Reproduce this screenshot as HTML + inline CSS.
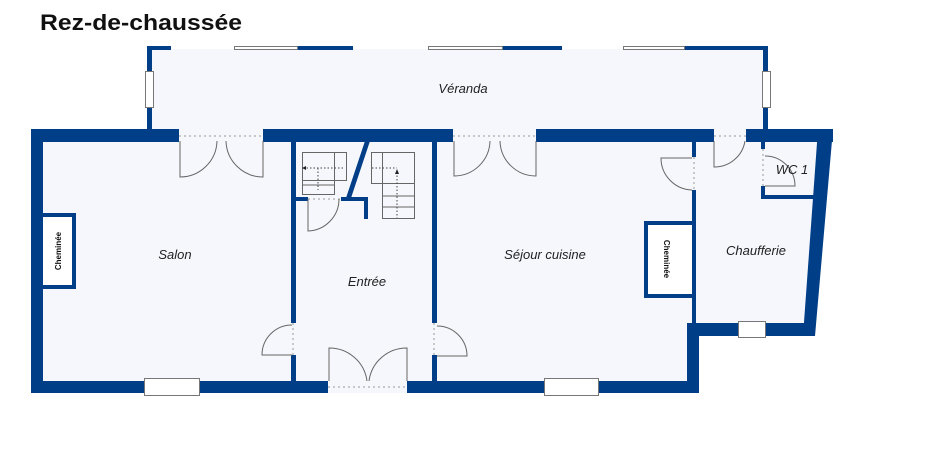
<!DOCTYPE html>
<html><head><meta charset="utf-8"><style>
html,body{margin:0;padding:0;background:#fff;width:925px;height:454px;overflow:hidden}
svg{display:block}
text{font-family:"Liberation Sans",Arial,sans-serif}
</style></head><body>
<svg width="925" height="454" viewBox="0 0 925 454" xmlns="http://www.w3.org/2000/svg">
<text x="40" y="30" font-size="22" font-weight="bold" fill="#111" textLength="202" lengthAdjust="spacingAndGlyphs">Rez-de-chaussée</text>
<!-- floors -->
<rect x="150" y="49" width="615" height="82" fill="#f5f7fc"/>
<polygon points="31,129 833,129 815,336 699,336 699,393 31,393" fill="#f5f7fc"/>
<g fill="#003f87">
<!-- veranda -->
<rect x="147" y="46" width="5" height="84"/>
<rect x="147" y="46" width="24" height="4"/>
<rect x="298" y="46" width="55" height="4"/>
<rect x="503" y="46" width="59" height="4"/>
<rect x="685" y="46" width="83" height="4"/>
<rect x="763" y="46" width="5" height="84"/>
<!-- outer walls -->
<rect x="31" y="129" width="148" height="13"/>
<rect x="263" y="129" width="190" height="13"/>
<rect x="536" y="129" width="178" height="13"/>
<rect x="746" y="129" width="87" height="13"/>
<rect x="31" y="129" width="12" height="264"/>
<rect x="31" y="381" width="297" height="12"/>
<rect x="407" y="381" width="292" height="12"/>
<rect x="687" y="323" width="12" height="70"/>
<rect x="687" y="323" width="128" height="13"/>
<polygon points="818,129 833,129 815,336 803,336"/>
<!-- interior walls -->
<rect x="291" y="141" width="5" height="182"/>
<rect x="291" y="355" width="5" height="27"/>
<rect x="432" y="141" width="5" height="182"/>
<rect x="432" y="355" width="5" height="27"/>
<rect x="692" y="137" width="4" height="20"/>
<rect x="692" y="190" width="4" height="135"/>
<rect x="761" y="141" width="4" height="8"/>
<rect x="761" y="186" width="4" height="13"/>
<rect x="761" y="195" width="54" height="4"/>
<polygon points="365,141 370,141 351,198 346,198"/>
<rect x="296" y="197" width="12" height="4"/>
<rect x="341" y="197" width="27" height="4"/>
<rect x="364" y="197" width="4" height="22"/>
<!-- cheminées -->
<rect x="43" y="213" width="33" height="76"/>
<rect x="644" y="221" width="48" height="77"/>
</g>
<rect x="43" y="217" width="29" height="68" fill="#fff"/>
<rect x="648" y="225" width="44" height="69" fill="#fff"/>
<text transform="translate(61,251) rotate(-90)" font-size="8" font-weight="bold" text-anchor="middle" fill="#111">Cheminée</text>
<text transform="translate(664,259) rotate(90)" font-size="8" font-weight="bold" text-anchor="middle" fill="#111">Cheminée</text>
<!-- windows -->
<g fill="#fff" stroke="#777" stroke-width="1">
<rect x="234.5" y="46.5" width="63" height="3"/>
<rect x="428.5" y="46.5" width="74" height="3"/>
<rect x="623.5" y="46.5" width="61" height="3"/>
<rect x="145.5" y="71.5" width="8" height="36"/>
<rect x="762.5" y="71.5" width="8" height="36"/>
<rect x="144.5" y="378.5" width="55" height="17"/>
<rect x="544.5" y="378.5" width="54" height="17"/>
<rect x="738.5" y="321.5" width="27" height="16"/>
</g>
<!-- door openings dotted -->
<g stroke="#999" stroke-width="1" stroke-dasharray="2,3" fill="none">
<line x1="179" y1="136" x2="263" y2="136"/>
<line x1="453" y1="136" x2="536" y2="136"/>
<line x1="714" y1="136" x2="746" y2="136"/>
<line x1="328" y1="387" x2="407" y2="387"/>
<line x1="293" y1="323" x2="293" y2="355"/>
<line x1="434" y1="323" x2="434" y2="355"/>
<line x1="694" y1="157" x2="694" y2="190"/>
<line x1="763" y1="149" x2="763" y2="186"/>
<line x1="308" y1="199" x2="341" y2="199"/>
</g>
<!-- door leaves -->
<g stroke="#666" stroke-width="1" fill="none">
<path d="M180 141 V177 A37 37 0 0 0 217 141"/>
<path d="M263 141 V177 A37 37 0 0 1 226 141"/>
<path d="M454 141 V176 A36 36 0 0 0 490 141"/>
<path d="M536 141 V176 A36 36 0 0 1 500 141"/>
<path d="M714 141 V167 A31 31 0 0 0 745 141"/>
<path d="M329 381 V348 A38 38 0 0 1 367 381"/>
<path d="M407 381 V348 A38 38 0 0 0 369 381"/>
<path d="M292 355 H262 A30 30 0 0 1 292 325"/>
<path d="M437 356 H467 A30 30 0 0 0 437 326"/>
<path d="M308 199 V231 A32 32 0 0 0 339 199"/>
<path d="M692 158 H661 A32 32 0 0 0 692 190"/>
<path d="M765 186 H795 A30 30 0 0 0 765 156"/>
</g>
<!-- stairs -->
<g stroke="#666" stroke-width="1" fill="none">
<rect x="302.5" y="152.5" width="44" height="28"/>
<rect x="302.5" y="152.5" width="32" height="42"/>
<line x1="302" y1="185" x2="335" y2="185"/>
<rect x="371.5" y="152.5" width="43" height="31"/>
<rect x="382.5" y="152.5" width="32" height="66"/>
<line x1="382" y1="196" x2="414" y2="196"/>
<line x1="382" y1="207" x2="414" y2="207"/>
</g>
<g stroke="#444" stroke-width="1" stroke-dasharray="1.5,2" fill="none">
<line x1="303" y1="168" x2="345" y2="168"/>
<line x1="318" y1="168" x2="318" y2="190"/>
<line x1="372" y1="168" x2="397" y2="168"/>
<line x1="397" y1="172" x2="397" y2="218"/>
</g>
<polygon points="302,168 306,166 306,170" fill="#222"/>
<polygon points="397,169 395,174 399,174" fill="#222"/>
<!-- labels -->
<g font-size="13" font-style="italic" fill="#222" text-anchor="middle">
<text x="463" y="93">Véranda</text>
<text x="175" y="259">Salon</text>
<text x="367" y="286">Entrée</text>
<text x="545" y="259">Séjour cuisine</text>
<text x="756" y="255">Chaufferie</text>
<text x="792" y="174">WC 1</text>
</g>
</svg>
</body></html>
